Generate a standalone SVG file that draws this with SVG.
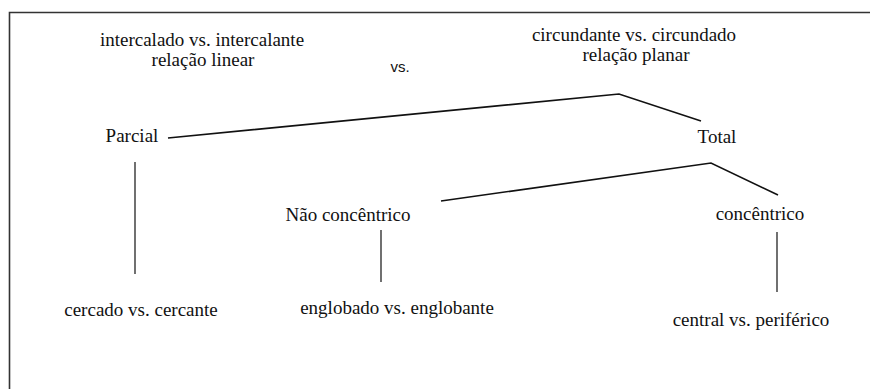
<svg xmlns="http://www.w3.org/2000/svg" width="870" height="389" viewBox="0 0 870 389">
<style>
text{font-family:"Liberation Serif","Times New Roman",serif;font-size:19px;fill:#111;text-anchor:middle;}
.sans{font-family:"Liberation Sans",Arial,sans-serif;font-size:15px;}
.edge{fill:none;stroke:#111;stroke-width:1.6;}
.vert{fill:none;stroke:#111;stroke-width:1.2;}
</style>
<rect width="870" height="389" fill="#fff"/>
<path d="M9.5,389 V12.5 H870" fill="none" stroke="#333" stroke-width="1.6"/>
<g id="header">
<text x="202" y="46">intercalado vs. intercalante</text>
<text x="203" y="66">relação linear</text>
<text class="sans" x="400" y="72">vs.</text>
<text x="634" y="41">circundante vs. circundado</text>
<text x="636" y="61">relação planar</text>
</g>
<g id="node-parcial"><text x="132" y="142">Parcial</text></g>
<g id="node-total"><text x="717" y="143">Total</text></g>
<g id="node-nao-concentrico"><text x="348" y="221">Não concêntrico</text></g>
<g id="node-concentrico"><text x="760" y="220">concêntrico</text></g>
<g id="node-cercado"><text x="141" y="316">cercado vs. cercante</text></g>
<g id="node-englobado"><text x="397" y="314">englobado vs. englobante</text></g>
<g id="node-central"><text x="751" y="326">central vs. periférico</text></g>
<g id="connectors">
<polyline class="edge" points="168,138 619,94 701,121"/>
<polyline class="edge" points="441,201 711,163 778,195"/>
<line class="vert" x1="135" y1="162" x2="135" y2="274"/>
<line class="vert" x1="381" y1="230" x2="381" y2="282"/>
<line class="vert" x1="777" y1="232" x2="777" y2="292"/>
</g>
</svg>
